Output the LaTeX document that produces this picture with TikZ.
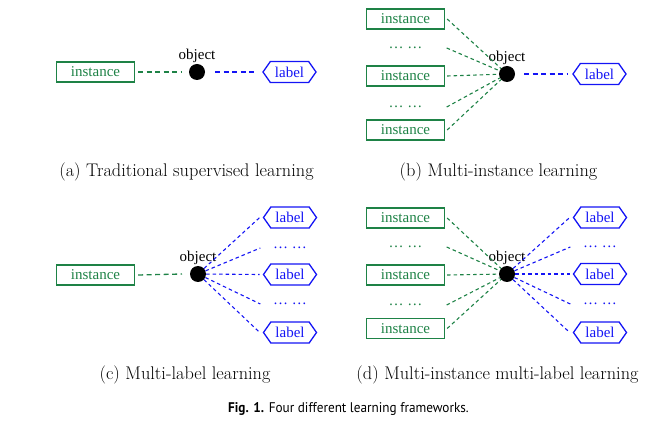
\documentclass[tikz,border=0pt]{standalone}
\usepackage{fontspec}
\usepackage{graphicx}
\newfontfamily\nodefont{Liberation Serif}
\newfontfamily\figfont{PT Sans}
\usetikzlibrary{shapes.symbols}
\definecolor{igreen}{RGB}{30,130,70}
\definecolor{lblue}{RGB}{20,20,245}
\begin{document}
\begin{tikzpicture}[x=1pt,y=-1pt,
  inst/.style={draw=igreen,line width=1.3pt,text=igreen,font=\nodefont\fontsize{15}{15}\selectfont,minimum width=78,minimum height=20,inner sep=0pt},
  lab/.style={shape=signal,signal to=west and east,signal pointer angle=110,draw=lblue,line width=1.3pt,text=lblue,font=\nodefont\fontsize{15}{15}\selectfont,minimum width=53,minimum height=21,inner sep=0pt},
  obj/.style={circle,fill=black,minimum size=16,inner sep=0pt,label={[font=\nodefont\fontsize{15}{15}\selectfont,inner sep=1pt]above:object}},
  gdots/.style={text=igreen,font=\nodefont\fontsize{15}{15}\selectfont,minimum width=78,inner sep=0pt},
  bdots/.style={text=lblue,font=\nodefont\fontsize{15}{15}\selectfont,minimum width=53,inner sep=0pt},
  glink/.style={draw=igreen,line width=1.3pt,dash pattern=on 5pt off 3.5pt},
  blink/.style={draw=lblue,line width=1.3pt,dash pattern=on 5pt off 3.5pt},
  gfan/.style={draw=igreen,line width=1.1pt,dash pattern=on 3.5pt off 3pt},
  bfan/.style={draw=lblue,line width=1.1pt,dash pattern=on 3.5pt off 3pt},
  captxt/.style={font=\fontsize{18.3}{20}\selectfont,inner sep=0pt}]
\useasboundingbox (0,0) rectangle (667,430);
% (a)
\node[inst] (ai) at (95.5,72) {instance};
\node[obj] (ao) at (197,72) {};
\node[lab] (al) at (289.5,72) {label};
\draw[glink] (ai.east) ++(3,0) -- ([xshift=-16pt]ao.center);
\draw[blink] ([xshift=18pt]ao.center) -- ([xshift=-5pt]al.west);
\node[captxt] (ac) at (186.5,172) {(a) Traditional supervised learning};
% (b)
\node[inst] (bi1) at (405.5,19) {instance};
\node[gdots] (bd1) at (405.5,48) {\dots\ \dots};
\node[inst] (bi2) at (405.5,76) {instance};
\node[gdots] (bd2) at (405.5,107) {\dots\ \dots};
\node[inst] (bi3) at (405.5,130) {instance};
\node[obj] (bo) at (507,74) {};
\node[lab] (bl) at (599.5,74) {label};
\foreach \n in {bi1,bd1,bi2,bd2,bi3}
  \draw[gfan] ([xshift=2pt]\n.east) -- (bo);
\draw[blink] ([xshift=17pt]bo.center) -- ([xshift=-5pt]bl.west);
\node[captxt] (bc) at (498.5,172) {(b) Multi-instance learning};
% (c)
\node[inst] (ci) at (95.5,275) {instance};
\node[obj] (co) at (198,274) {};
\node[lab] (cl1) at (290,217.5) {label};
\node[bdots] (cd1) at (290,248) {\dots\ \dots};
\node[lab] (cl2) at (290,274.5) {label};
\node[bdots] (cd2) at (290,304) {\dots\ \dots};
\node[lab] (cl3) at (290,332.5) {label};
\draw[glink] (ci.east) ++(3,0) -- ([xshift=-16pt]co.center);
\foreach \n in {cl1,cd1,cl2,cd2,cl3}
  \draw[bfan] (co) -- ([xshift=-3pt]\n.west);
\node[captxt] (cc) at (185,375) {(c) Multi-label learning};
% (d)
\node[inst] (di1) at (405.5,218) {instance};
\node[gdots] (dd1) at (405.5,247) {\dots\ \dots};
\node[inst] (di2) at (405.5,275) {instance};
\node[gdots] (dd2) at (405.5,305) {\dots\ \dots};
\node[inst] (di3) at (405.5,328.5) {instance};
\node[obj] (dob) at (507,274) {};
\node[lab] (dl1) at (600,217.5) {label};
\node[bdots] (de1) at (600,247) {\dots\ \dots};
\node[lab] (dl2) at (600,274) {label};
\node[bdots] (de2) at (600,304) {\dots\ \dots};
\node[lab] (dl3) at (600,332.5) {label};
\foreach \n in {di1,dd1,di2,dd2,di3}
  \draw[gfan] ([xshift=2pt]\n.east) -- (dob);
\foreach \n in {dl1,de1,dl2,de2,dl3}
  \draw[bfan] (dob) -- ([xshift=-3pt]\n.west);
\node[captxt] (dc) at (497.5,375) {(d) Multi-instance multi-label learning};
% figure caption
\node[font=\figfont\fontsize{14}{16}\selectfont,inner sep=0pt] (fig) at (348.5,409) {\scalebox{0.945}[1]{\textbf{Fig. 1.} Four different learning frameworks.}};
\end{tikzpicture}
\end{document}
